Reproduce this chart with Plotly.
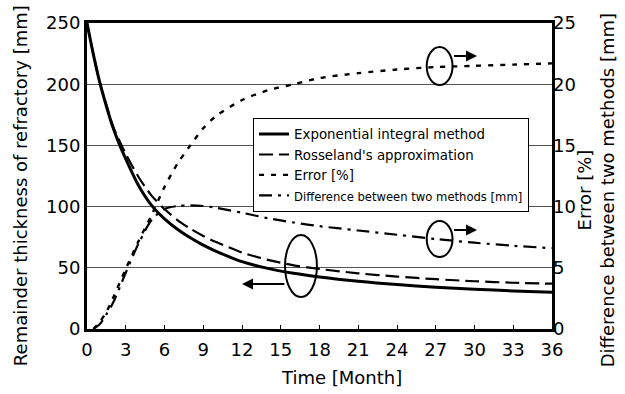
import plotly.graph_objects as go

# ---- data ----
months_thk = [0, 0.5, 1, 1.5, 2, 2.5, 3, 4, 5, 6, 7, 8, 9, 10, 12, 14, 16, 18, 21, 24, 27, 30, 33, 36]
exp_integral = [250, 224, 201, 182, 165, 151, 139, 117, 101, 90, 81.5, 74.5, 68.5, 63.5, 55, 49.5, 45.5, 42.5, 39, 36.3, 34.2, 32.5, 31.1, 30]
rosseland = [250, 224, 201, 183, 166, 154, 143, 124, 109, 98, 89, 82, 76, 71, 62.5, 56.5, 52, 49, 45.5, 42.8, 40.7, 39, 37.8, 37]

months_pct = [0.5, 1, 1.5, 2, 3, 4, 5, 6, 7, 8, 9, 10, 12, 14, 16, 18, 21, 24, 27, 30, 33, 36]
error_pct = [0, 0.6, 1.4, 2.5, 4.9, 7.2, 9.3, 11.6, 13.5, 15.0, 16.4, 17.4, 18.7, 19.5, 20.0, 20.5, 20.9, 21.2, 21.4, 21.5, 21.6, 21.7]
difference_mm = [0, 0.4, 1.2, 2.1, 4.6, 7.0, 8.9, 9.8, 10.05, 10.1, 10.05, 9.9, 9.5, 9.05, 8.7, 8.4, 8.05, 7.7, 7.35, 7.05, 6.8, 6.6]

x_ticks = list(range(0, 37, 3))
y_left_ticks = [0, 50, 100, 150, 200, 250]
y_right_ticks = [0, 5, 10, 15, 20, 25]

names = ["Exponential integral method", "Rosseland's approximation", "Error [%]",
         "<span style='font-size:11.6px'>Difference between two methods [mm]</span>"]

FONT = "DejaVu Sans"

fig = go.Figure()
fig.add_trace(go.Scatter(x=months_thk, y=exp_integral, name=names[0], mode="lines",
                         line=dict(color="black", width=3, shape="spline", smoothing=0.8)))
fig.add_trace(go.Scatter(x=months_thk, y=rosseland, name=names[1], mode="lines",
                         line=dict(color="black", width=2.2, dash="14px,6px", shape="spline", smoothing=0.8)))
fig.add_trace(go.Scatter(x=months_pct, y=error_pct, name=names[2], mode="lines", yaxis="y2",
                         line=dict(color="black", width=2.4, dash="5px,7px", shape="spline", smoothing=0.8)))
fig.add_trace(go.Scatter(x=months_pct, y=difference_mm, name=names[3], mode="lines", yaxis="y2",
                         line=dict(color="black", width=2.2, dash="13px,6px,3px,6px", shape="spline", smoothing=0.8)))

# ellipses (annotation marks)
ell = dict(type="circle", xref="x", yref="y", line=dict(color="black", width=2), fillcolor="rgba(0,0,0,0)")
fig.add_shape(x0=15.33, x1=17.8, y0=26.1, y1=76.8, **ell)
fig.add_shape(x0=26.3, x1=28.3, y0=58.8, y1=88.2, **ell)
fig.add_shape(x0=26.3, x1=28.3, y0=199.3, y1=230.4, **ell)

arrow = dict(xref="x", yref="y", axref="x", ayref="y", text="", showarrow=True,
             arrowhead=2, arrowsize=1.1, arrowwidth=2, arrowcolor="black")
fig.add_annotation(x=12.0, y=36.8, ax=15.4, ay=36.8, **arrow)
fig.add_annotation(x=30.2, y=80.9, ax=28.3, ay=80.9, **arrow)
fig.add_annotation(x=30.2, y=223, ax=28.3, ay=223, **arrow)

# axis titles
tf = dict(family=FONT, size=18, color="black")
fig.add_annotation(text="Remainder thickness of refractory [mm]", xref="paper", yref="paper",
                   x=-0.144, y=0.467, textangle=-90, showarrow=False, font=tf,
                   xanchor="center", yanchor="middle")
fig.add_annotation(text="Time [Month]", xref="paper", yref="paper",
                   x=0.548, y=-0.157, showarrow=False, font=tf, xanchor="center", yanchor="middle")
fig.add_annotation(text="Error [%]<br>Difference between two methods [mm]", xref="paper", yref="paper",
                   x=1.095, y=0.454, textangle=-90, showarrow=False, font=tf,
                   xanchor="center", yanchor="middle")

fig.update_layout(
    width=625, height=394,
    margin=dict(l=87, r=73, t=23, b=65),
    paper_bgcolor="white", plot_bgcolor="white",
    font=dict(family=FONT, size=18, color="black"),
    showlegend=True,
    legend=dict(x=0.357, y=0.69, xanchor="left", yanchor="top",
                bgcolor="white", bordercolor="black", borderwidth=1,
                font=dict(family=FONT, size=13.4, color="black"),
                tracegroupgap=0, itemwidth=30),
    xaxis=dict(range=[0, 36], tickvals=x_ticks, ticks="inside", ticklen=4, tickcolor="black",
               tickwidth=1, showline=True, linewidth=3, linecolor="black", mirror=True,
               showgrid=False, zeroline=False, tickfont=dict(family=FONT, size=18),
               ticklabelstandoff=2),
    yaxis=dict(range=[0, 250], tickvals=y_left_ticks, ticks="", showline=True, linewidth=3,
               linecolor="black", mirror=True, showgrid=True, gridcolor="#555555", gridwidth=1,
               zeroline=False, tickfont=dict(family=FONT, size=18)),
    yaxis2=dict(range=[0, 25], tickvals=y_right_ticks, overlaying="y", side="right", ticks="",
                showgrid=False, zeroline=False, showline=False,
                tickfont=dict(family=FONT, size=18)),
)

fig.write_html("out.html")
